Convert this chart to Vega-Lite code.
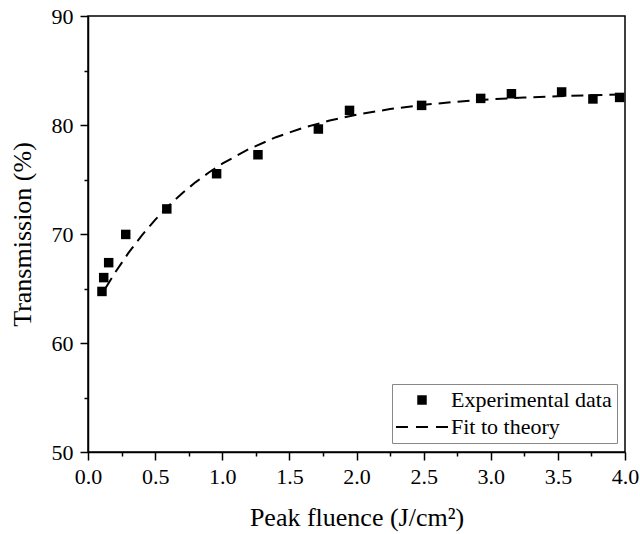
{
  "$schema": "https://vega.github.io/schema/vega-lite/v6.json",
  "width": 537,
  "height": 436,
  "autosize": "none",
  "padding": {"left": 88, "top": 16, "right": 15, "bottom": 82},
  "background": "white",
  "datasets": {
    "points": [
      {"x": 0.104, "y": 64.73, "series": "Experimental data"},
      {"x": 0.117, "y": 66.0, "series": "Experimental data"},
      {"x": 0.154, "y": 67.37, "series": "Experimental data"},
      {"x": 0.281, "y": 69.96, "series": "Experimental data"},
      {"x": 0.587, "y": 72.3, "series": "Experimental data"},
      {"x": 0.958, "y": 75.53, "series": "Experimental data"},
      {"x": 1.266, "y": 77.27, "series": "Experimental data"},
      {"x": 1.716, "y": 79.63, "series": "Experimental data"},
      {"x": 1.948, "y": 81.34, "series": "Experimental data"},
      {"x": 2.485, "y": 81.8, "series": "Experimental data"},
      {"x": 2.925, "y": 82.44, "series": "Experimental data"},
      {"x": 3.154, "y": 82.87, "series": "Experimental data"},
      {"x": 3.528, "y": 83.03, "series": "Experimental data"},
      {"x": 3.761, "y": 82.39, "series": "Experimental data"},
      {"x": 3.96, "y": 82.53, "series": "Experimental data"}
    ],
    "fit": [
      {"x": 0.13, "y": 65.03},
      {"x": 0.2, "y": 66.43},
      {"x": 0.3, "y": 68.24},
      {"x": 0.4, "y": 69.86},
      {"x": 0.5, "y": 71.3},
      {"x": 0.6, "y": 72.58},
      {"x": 0.7, "y": 73.72},
      {"x": 0.8, "y": 74.74},
      {"x": 0.9, "y": 75.64},
      {"x": 1.0, "y": 76.45},
      {"x": 1.2, "y": 77.8},
      {"x": 1.4, "y": 78.88},
      {"x": 1.6, "y": 79.73},
      {"x": 1.8, "y": 80.41},
      {"x": 2.0, "y": 80.95},
      {"x": 2.25, "y": 81.46},
      {"x": 2.5, "y": 81.85},
      {"x": 2.75, "y": 82.14},
      {"x": 3.0, "y": 82.36},
      {"x": 3.25, "y": 82.52},
      {"x": 3.5, "y": 82.64},
      {"x": 3.75, "y": 82.73},
      {"x": 4.0, "y": 82.8}
    ]
  },
  "config": {
    "view": {"stroke": "black", "strokeWidth": 1.5},
    "axis": {
      "grid": false,
      "labelFlush": false,
      "labelFont": "Liberation Serif",
      "labelFontSize": 22,
      "labelColor": "black",
      "titleFont": "Liberation Serif",
      "titleFontSize": 26,
      "titleFontWeight": "normal",
      "titleColor": "black",
      "domainColor": "black",
      "domainWidth": 1.5,
      "tickColor": "black",
      "tickWidth": 1.5
    },
    "legend": {
      "padding": 5,
      "strokeColor": "#888888",
      "fillColor": "white",
      "symbolSize": 90,
      "symbolStrokeWidth": 0,
      "symbolOffset": 14,
      "labelOffset": 18,
      "labelLimit": 400,
      "labelFont": "Liberation Serif",
      "labelFontSize": 22,
      "labelColor": "black",
      "rowPadding": 5
    }
  },
  "resolve": {"axis": {"x": "independent", "y": "independent"}},
  "layer": [
    {
      "data": {"name": "fit"},
      "mark": {"type": "line", "color": "black", "strokeWidth": 2, "strokeDash": [12, 7]},
      "encoding": {
        "x": {
          "field": "x", "type": "quantitative",
          "scale": {"domain": [0, 4], "nice": false, "zero": false},
          "axis": {"orient": "bottom", "values": [0.25, 0.75, 1.25, 1.75, 2.25, 2.75, 3.25, 3.75], "labels": false, "tickSize": 4, "domain": false, "title": null}
        },
        "y": {
          "field": "y", "type": "quantitative",
          "scale": {"domain": [50, 90], "nice": false, "zero": false},
          "axis": {"orient": "left", "values": [55, 65, 75, 85], "labels": false, "tickSize": 4, "domain": false, "title": null}
        }
      }
    },
    {
      "data": {"name": "points"},
      "mark": {"type": "point", "filled": true, "color": "black", "opacity": 1, "size": 90},
      "encoding": {
        "x": {
          "field": "x", "type": "quantitative",
          "scale": {"domain": [0, 4], "nice": false, "zero": false},
          "axis": {"orient": "bottom", "values": [0, 0.5, 1, 1.5, 2, 2.5, 3, 3.5, 4], "format": ".1f", "tickSize": 8, "labelPadding": 6, "titlePadding": 17, "title": "Peak fluence (J/cm²)"}
        },
        "y": {
          "field": "y", "type": "quantitative",
          "scale": {"domain": [50, 90], "nice": false, "zero": false},
          "axis": {"orient": "left", "values": [50, 60, 70, 80, 90], "format": "d", "tickSize": 8, "labelPadding": 7, "titlePadding": 16, "title": "Transmission (%)"}
        },
        "shape": {
          "field": "series", "type": "nominal",
          "scale": {
            "domain": ["Experimental data", "Fit to theory"],
            "range": ["square", "M-5.49,-0.21H-2.96V0.21H-5.49Z M-1.27,-0.21H1.26V0.21H-1.27Z M2.95,-0.21H5.48V0.21H2.95Z"]
          },
          "legend": {"title": null, "orient": "none", "legendX": 304, "legendY": 368, "symbolFillColor": "black"}
        }
      }
    }
  ]
}
